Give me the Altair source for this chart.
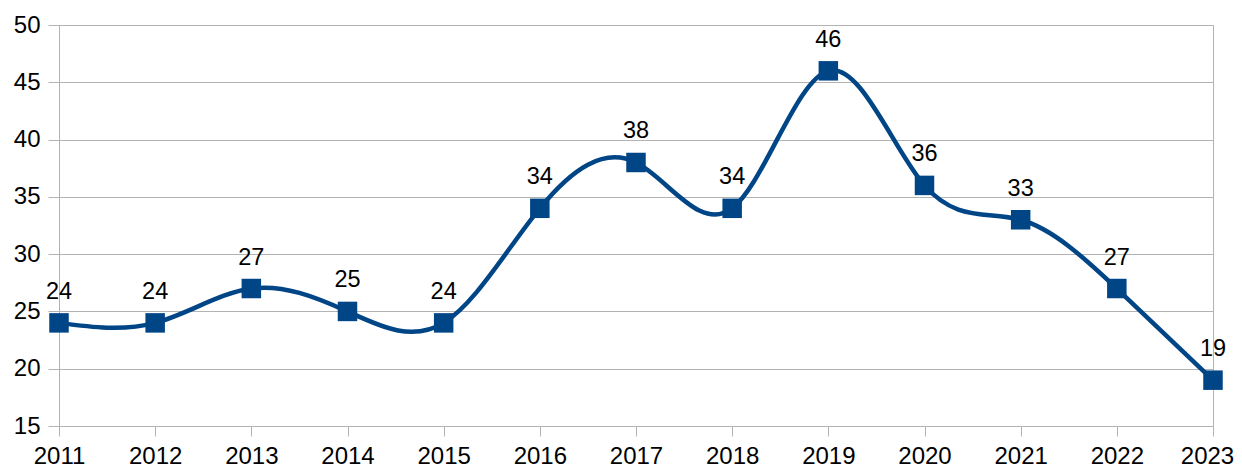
import altair as alt
import pandas as pd

years = [2011, 2012, 2013, 2014, 2015, 2016, 2017, 2018, 2019, 2020, 2021, 2022, 2023]
values = [24, 24, 27, 25, 24, 34, 38, 34, 46, 36, 33, 27, 19]

df = pd.DataFrame({"year": years, "value": values})
COLOR = "#004586"
FONT = "Liberation Sans"

x = alt.X("year:Q", scale=alt.Scale(domain=[2011, 2023], nice=False),
          axis=alt.Axis(values=years, format="d", title=None, grid=False,
                        tickSize=10, tickColor="#b3b3b3", domain=True, domainColor="#b3b3b3",
                        labelFontSize=24, labelFont=FONT, labelColor="#000000", labelPadding=8,
                        labelFlush=False,
                        labelOffset={"condition": {"test": "datum.value == 2023", "value": -6},
                                     "value": 0}))
y = alt.Y("value:Q", scale=alt.Scale(domain=[15, 50], nice=False, zero=False),
          axis=alt.Axis(values=[15, 20, 25, 30, 35, 40, 45, 50], title=None, grid=True,
                        gridColor="#b3b3b3", tickSize=11, tickColor="#b3b3b3",
                        domainColor="#b3b3b3", labelFontSize=24, labelFont=FONT,
                        labelColor="#000000", labelPadding=8))

base = alt.Chart(df).encode(x=x, y=y)
line = base.mark_line(interpolate="natural", color=COLOR, strokeWidth=4.5)
pts = base.mark_point(shape="square", filled=True, size=380, color=COLOR, opacity=1)
labels = base.mark_text(dy=-31, fontSize=23.5, font=FONT, color="#000000").encode(text="value:Q")

chart = (line + pts + labels).properties(
    width=1154, height=401,
    autosize=alt.AutoSizeParams(type="none"),
    padding={"left": 51, "top": 17, "right": 21, "bottom": 44},
).configure_view(stroke="#b3b3b3", strokeWidth=1)

chart.save("out.html", embed_options={"renderer": "svg", "actions": False})
